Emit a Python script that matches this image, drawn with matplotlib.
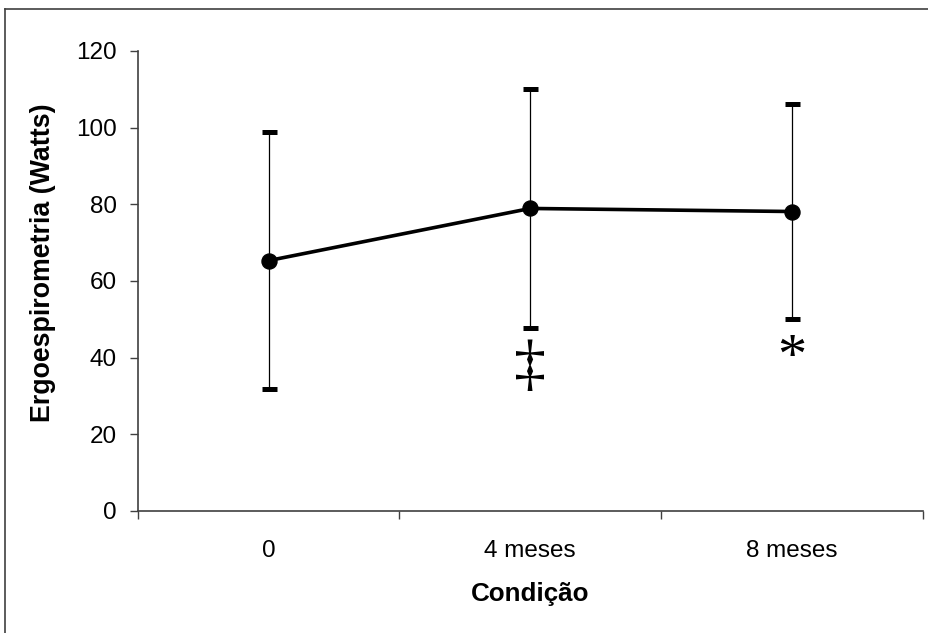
import numpy as np
import matplotlib
matplotlib.use('Agg')
import matplotlib.pyplot as plt
from matplotlib.lines import Line2D

# --- data ---
condicoes = ['0', '4 meses', '8 meses']
media = [65.3, 78.9, 78.1]
desvio = [33.6, 31.1, 28.1]
marcas = ['', '\u2021', '*']
marca_y = [0, 36.9, 39.6]
marca_tam = [0, 46, 42]

plt.rcParams['font.family'] = ['Liberation Sans', 'DejaVu Sans']

fig = plt.figure(figsize=(9.29, 6.33), dpi=100)
# plot area: x 137.8..922.7 px, y 50.9..510.9 px
ax = fig.add_axes([137.8 / 929, 1 - 510.9 / 633, (922.7 - 137.8) / 929, 460 / 633])

x = np.arange(len(condicoes))
ax.errorbar(x, media, yerr=desvio, fmt='none', ecolor='black',
            elinewidth=0.9, capsize=5.4, capthick=3.6, zorder=2)
ax.plot(x, media, color='black', linewidth=2.6, marker='o',
        markersize=10.8, zorder=3)

for xi, m, yi, fs in zip(x, marcas, marca_y, marca_tam):
    if m:
        ax.text(xi, yi, m, ha='center', va='center', fontsize=fs,
                family=['Liberation Serif', 'DejaVu Serif'])

ax.set_xlim(-0.5, 2.5)
ax.set_ylim(0, 120)
ax.set_yticks(range(0, 121, 20))
ax.set_xticks(x)
ax.set_xticklabels(condicoes)
ax.set_xticks([-0.5, 0.5, 1.5, 2.5], minor=True)
ax.tick_params(axis='x', which='major', length=0, pad=21, labelsize=17.5)
ax.tick_params(axis='x', which='minor', length=6, width=1, color='#404040')
ax.tick_params(axis='y', length=6, width=1, color='#404040', pad=9, labelsize=17.5)

for s in ['top', 'right']:
    ax.spines[s].set_visible(False)
for s in ['left', 'bottom']:
    ax.spines[s].set_color('#404040')
    ax.spines[s].set_linewidth(1.2)

ax.set_xlabel('Condição', fontsize=18.7, fontweight='bold', va='center')
ax.xaxis.set_label_coords(0.5, -(594 - 510.9) / 460)
ax.set_ylabel('Ergoespirometria (Watts)', fontsize=19.3, fontweight='bold', va='center')
ax.yaxis.set_label_coords(-(137.8 - 43) / 784.9, (510.9 - 263) / 460)

# outer chart border (only top and left visible in the crop)
fig.add_artist(Line2D([5.5 / 929, 5.5 / 929], [0, 1 - 9 / 633], transform=fig.transFigure,
                      color='#404040', linewidth=1.2))
fig.add_artist(Line2D([5.5 / 929, 1], [1 - 9 / 633, 1 - 9 / 633], transform=fig.transFigure,
                      color='#404040', linewidth=1.2))

plt.savefig('out.png', dpi=100)
